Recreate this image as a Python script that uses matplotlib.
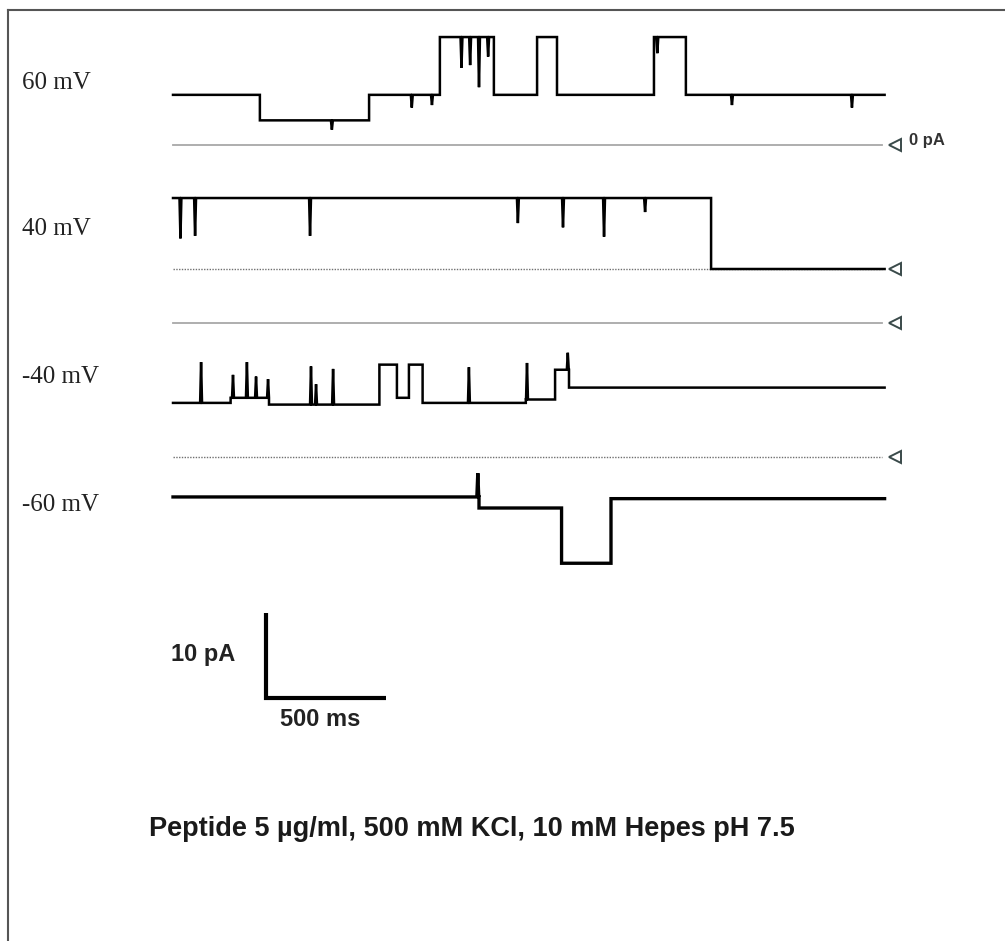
import numpy as np
import matplotlib
matplotlib.use("Agg")
import matplotlib.pyplot as plt
from matplotlib.lines import Line2D

# %%
# Data: single-channel recordings, time in ms, current in pA
T_END = 2965

labels = ["60 mV", "40 mV", "-40 mV", "-60 mV"]

# step changes: (time ms, current pA)
steps_60 = [(0, 5.9), (362, 2.9), (817, 5.9), (1112, 12.7), (1337, 5.9),
            (1517, 12.7), (1600, 5.9), (2004, 12.7), (2137, 5.9)]
spikes_60 = [(662, 1.8), (995, 4.4), (1079, 4.7), (1202, 9.1), (1238, 9.4),
             (1275, 6.8), (1313, 10.4), (2018, 10.8), (2329, 4.7), (2829, 4.4)]

steps_40 = [(0, 8.35), (2242, 0.0)]
spikes_40 = [(31, 3.6), (92, 3.9), (571, 3.9), (1437, 5.4), (1625, 4.9),
             (1796, 3.8), (1967, 6.7)]

steps_m40 = [(0, -9.4), (240, -8.8), (400, -9.6), (860, -4.9), (933, -8.8),
             (983, -4.9), (1040, -9.4), (1470, -9.0), (1592, -5.5), (1650, -7.6)]
spikes_m40 = [(117, -4.6), (250, -6.1), (308, -4.6), (346, -6.3), (396, -6.6),
              (575, -5.1), (596, -7.2), (667, -5.4), (1233, -5.2), (1475, -4.7),
              (1645, -3.5)]

steps_m60 = [(0, -4.7), (1275, -6.0), (1619, -12.5), (1825, -4.9)]
spikes_m60 = [(1270, -1.9)]

traces = [(steps_60, spikes_60), (steps_40, spikes_40),
          (steps_m40, spikes_m40), (steps_m60, spikes_m60)]

# scale bar
scale_t = 500   # ms
scale_i = 10    # pA

# %%
# Layout (pixel mapping: 0.24 px/ms, 8.5 px/pA)
W, H = 1005, 941
PX_MS = 0.24
PX_PA = 8.5
X0 = 173
zero_rows = [145, 269, 323, 457]          # pixel rows of the 0 pA lines
label_rows = [83, 229, 377, 505]
zero_styles = [dict(color="#a8a8a8", lw=1.3, ls="-"),
               dict(color="#707070", lw=1.0, ls=(0, (1, 1))),
               dict(color="#a8a8a8", lw=1.3, ls="-"),
               dict(color="#707070", lw=1.0, ls=(0, (1, 1)))]
trace_lw = [1.8, 1.8, 1.8, 2.4]


def build(steps, spikes, t_end, w=4):
    xs, ys = [], []
    ends = [s[0] for s in steps[1:]] + [t_end]
    for (s, lvl), e in zip(steps, ends):
        xs.append(s)
        ys.append(lvl)
        for t, peak in sorted(spikes):
            if s < t < e:
                xs += [t - w, t, t + w]
                ys += [lvl, peak, lvl]
        xs.append(e)
        ys.append(lvl)
    return np.array(xs), np.array(ys)


fig = plt.figure(figsize=(W / 100, H / 100), dpi=100)
ax = fig.add_axes([0, 0, 1, 1])
ax.set_xlim(-X0 / PX_MS, (W - X0) / PX_MS)
ax.set_ylim(0, H / PX_PA)
ax.axis("off")

for k, (steps, spikes) in enumerate(traces):
    off = (H - zero_rows[k]) / PX_PA
    ax.plot([0, T_END - 12], [off, off], **zero_styles[k], zorder=1)
    ax.plot([T_END + 45], [off], marker="<", ms=9, mfc="white", mec="#3a4a4a",
            mew=1.4, zorder=3)
    x, y = build(steps, spikes, T_END)
    ax.plot(x, y + off, color="black", lw=trace_lw[k], zorder=2,
            solid_joinstyle="miter")
    fig.text(22 / W, 1 - label_rows[k] / H, labels[k], family="Liberation Serif",
             fontsize=18, va="center", ha="left", color="#222222")

fig.text(909 / W, 1 - 141 / H, "0 pA", family="Liberation Sans", fontsize=12,
         fontweight="bold", va="center", color="#333333")

# scale bar
sx = (266 - X0) / PX_MS
sy = (H - 698) / PX_PA
ax.plot([sx, sx, sx + scale_t], [sy + scale_i, sy, sy], color="black", lw=3,
        solid_joinstyle="miter", solid_capstyle="butt")
fig.text(235 / W, 1 - 654 / H, f"{scale_i} pA", family="Liberation Sans",
         fontsize=17, fontweight="bold", ha="right", va="center", color="#222222")
fig.text(320 / W, 1 - 720 / H, f"{scale_t} ms", family="Liberation Sans",
         fontsize=17, fontweight="bold", ha="center", va="center", color="#222222")

fig.text(472 / W, 1 - 829 / H, "Peptide 5 µg/ml, 500 mM KCl, 10 mM Hepes pH 7.5",
         family="Liberation Sans", fontsize=19.5, fontweight="bold",
         ha="center", va="center", color="#1a1a1a")

# frame
fig.add_artist(Line2D([8 / W, 8 / W], [0, 1 - 10 / H], color="#555555", lw=1.5))
fig.add_artist(Line2D([8 / W, 1], [1 - 10 / H, 1 - 10 / H], color="#555555", lw=1.5))

fig.savefig("out.png", dpi=100, facecolor="white")
